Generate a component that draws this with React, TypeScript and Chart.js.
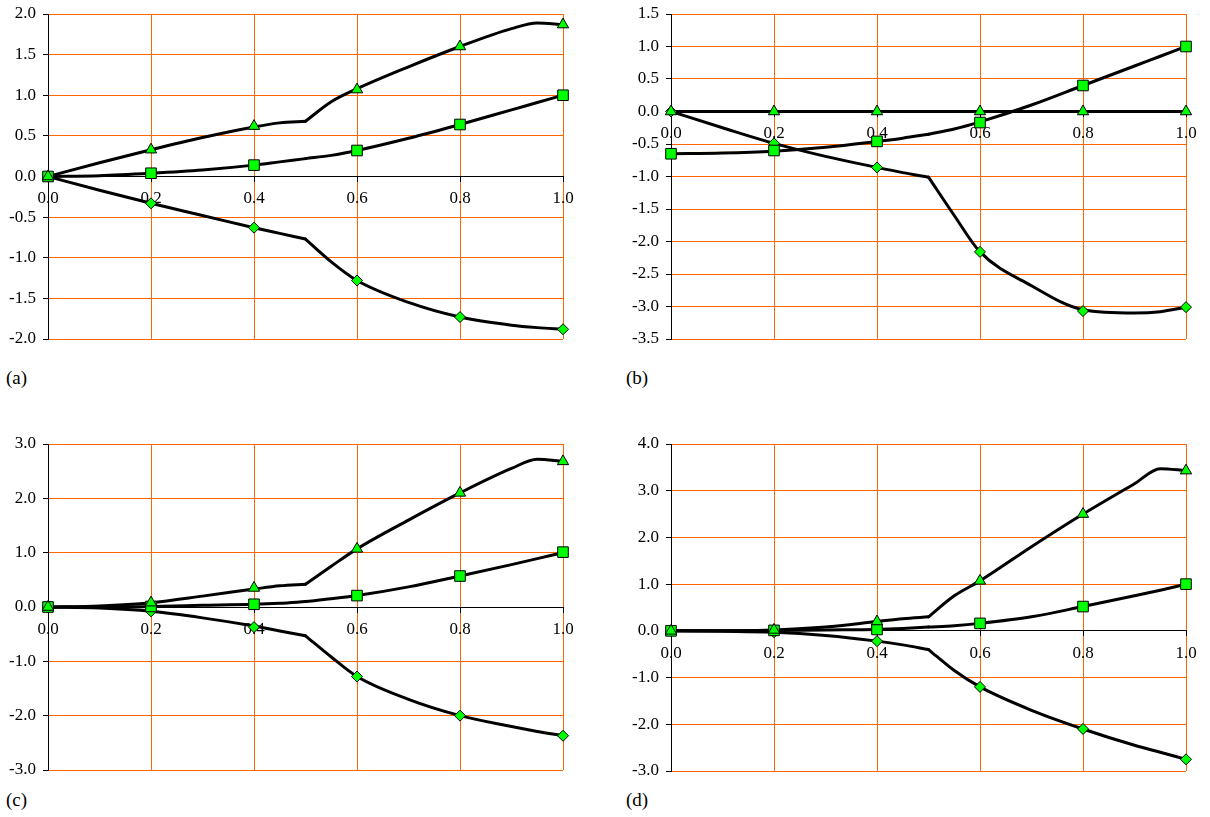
import React, { useEffect, useRef } from "react";
import { Chart, registerables } from "chart.js";

Chart.register(...registerables);

// ---- shared x positions ----
const xMarks = [0, 0.2, 0.4, 0.6, 0.8, 1.0];
const xLeft = [0, 0.1, 0.2, 0.3, 0.4, 0.45, 0.5];
const xRight = [0.5, 0.55, 0.6, 0.7, 0.8, 0.9, 0.95, 1.0];
const xTickLabels = ["0.0", "0.2", "0.4", "0.6", "0.8", "1.0"];

// ---- panel (a) ----
const aTriMarks = [0, 0.33, 0.62, 1.07, 1.6, 1.87];
const aTriLeft = [0, 0.17, 0.33, 0.48, 0.61, 0.66, 0.68];
const aTriRight = [0.68, 0.92, 1.08, 1.35, 1.6, 1.82, 1.89, 1.87];
const aSqMarks = [0, 0.04, 0.14, 0.32, 0.64, 1.0];
const aSqLeft = [0, 0.01, 0.04, 0.08, 0.14, 0.18, 0.22];
const aSqRight = [0.22, 0.26, 0.32, 0.47, 0.64, 0.82, 0.91, 1.0];
const aDiaMarks = [0, -0.33, -0.63, -1.28, -1.73, -1.88];
const aDiaLeft = [0, -0.17, -0.33, -0.48, -0.63, -0.7, -0.77];
const aDiaRight = [-0.77, -1.05, -1.28, -1.55, -1.73, -1.83, -1.86, -1.88];

// ---- panel (b) ----
const bTriMarks = [0, 0, 0, 0, 0, 0];
const bTriLeft = [0, 0, 0, 0, 0, 0, 0];
const bTriRight = [0, 0, 0, 0, 0, 0, 0, 0];
const bSqMarks = [-0.65, -0.6, -0.46, -0.17, 0.4, 1.0];
const bSqLeft = [-0.65, -0.64, -0.61, -0.55, -0.46, -0.41, -0.35];
const bSqRight = [-0.35, -0.27, -0.16, 0.1, 0.4, 0.7, 0.85, 1.0];
const bDiaMarks = [0, -0.49, -0.86, -2.16, -3.07, -3.01];
const bDiaLeft = [0, -0.25, -0.49, -0.69, -0.86, -0.94, -1.01];
const bDiaRight = [-1.01, -1.6, -2.16, -2.68, -3.05, -3.1, -3.08, -3.01];

// ---- panel (c) ----
const cTriMarks = [0, 0.08, 0.35, 1.07, 2.1, 2.68];
const cTriLeft = [0, 0.02, 0.08, 0.2, 0.33, 0.39, 0.42];
const cTriRight = [0.42, 0.75, 1.07, 1.6, 2.1, 2.55, 2.72, 2.68];
const cSqMarks = [0, 0.01, 0.05, 0.21, 0.57, 1.01];
const cSqLeft = [0, 0, 0.01, 0.03, 0.05, 0.07, 0.1];
const cSqRight = [0.1, 0.15, 0.21, 0.37, 0.57, 0.78, 0.89, 1.0];
const cDiaMarks = [0, -0.08, -0.37, -1.28, -2.0, -2.37];
const cDiaLeft = [0, -0.02, -0.08, -0.2, -0.35, -0.44, -0.53];
const cDiaRight = [-0.53, -0.92, -1.28, -1.7, -2.0, -2.2, -2.29, -2.37];

// ---- panel (d) ----
const dTriMarks = [0, 0.02, 0.2, 1.07, 2.5, 3.43];
const dTriLeft = [0, 0, 0.02, 0.08, 0.2, 0.26, 0.3];
const dTriRight = [0.3, 0.75, 1.07, 1.8, 2.5, 3.15, 3.47, 3.43];
const dSqMarks = [0, 0.01, 0.03, 0.16, 0.52, 1.0];
const dSqLeft = [0, 0, 0.01, 0.02, 0.03, 0.05, 0.08];
const dSqRight = [0.08, 0.11, 0.16, 0.3, 0.52, 0.75, 0.87, 1.0];
const dDiaMarks = [0, -0.03, -0.22, -1.2, -2.1, -2.75];
const dDiaLeft = [0, -0.01, -0.03, -0.1, -0.22, -0.3, -0.4];
const dDiaRight = [-0.4, -0.85, -1.2, -1.7, -2.1, -2.45, -2.6, -2.75];

const panelLabels = ["(a)", "(b)", "(c)", "(d)"];

const GREEN = "#00ff00";
const ORANGE = "#ff6600";
const FONT = "'Liberation Serif', 'Times New Roman', serif";

type Series = { marks: number[]; left: number[]; right: number[]; style: string; r: number };

const pts = (xs: number[], ys: number[]) => xs.map((x, i) => ({ x, y: ys[i] }));

function buildDatasets(series: Series[]) {
  const markers = series.map((s) => ({
    data: pts(xMarks, s.marks),
    showLine: false,
    pointStyle: s.style,
    pointRadius: s.r,
    pointHoverRadius: s.r,
    pointBackgroundColor: GREEN,
    pointBorderColor: "#000",
    pointBorderWidth: 1,
    borderColor: "#000",
    backgroundColor: GREEN,
    clip: false,
  }));
  const lines: any[] = [];
  series.forEach((s) => {
    [pts(xLeft, s.left), pts(xRight, s.right)].forEach((d) => {
      lines.push({
        data: d,
        showLine: true,
        borderColor: "#000",
        borderWidth: 3,
        pointRadius: 0,
        pointHoverRadius: 0,
        cubicInterpolationMode: "monotone",
        fill: false,
        borderCapStyle: "round",
        borderJoinStyle: "round",
      });
    });
  });
  return [...markers, ...lines];
}

type PanelCfg = {
  left: number;
  top: number;
  w: number;
  h: number;
  padB: number;
  min: number;
  max: number;
  step: number;
  series: Series[];
};

function Panel({ cfg }: { cfg: PanelCfg }) {
  const ref = useRef<HTMLCanvasElement>(null);
  useEffect(() => {
    const tickFont = { family: FONT, size: 17 };
    const chart = new Chart(ref.current as HTMLCanvasElement, {
      type: "line",
      data: { datasets: buildDatasets(cfg.series) as any },
      options: {
        animation: false,
        responsive: false,
        events: [],
        plugins: { legend: { display: false }, tooltip: { enabled: false } },
        layout: { autoPadding: false, padding: { top: 14, right: 37, bottom: cfg.padB, left: 0 } },
        scales: {
          x: {
            type: "linear",
            min: 0,
            max: 1,
            position: { y: 0 } as any,
            afterBuildTicks: (s: any) => {
              s.ticks = xMarks.map((v) => ({ value: v }));
            },
            afterFit: (s: any) => {
              s.height = 0;
              s.paddingLeft = 0;
              s.paddingRight = 0;
            },
            ticks: {
              callback: (_v: any, i: number) => xTickLabels[i],
              font: tickFont,
              color: "#000",
              padding: 7,
              maxRotation: 0,
              autoSkip: false,
            },
            grid: { color: ORANGE, lineWidth: 1, tickColor: "#000", tickLength: 5 },
            border: { color: "#000", width: 1 },
          },
          y: {
            type: "linear",
            min: cfg.min,
            max: cfg.max,
            position: "left",
            afterFit: (s: any) => {
              s.width = 48;
              s.paddingTop = 0;
              s.paddingBottom = 0;
            },
            ticks: {
              stepSize: cfg.step,
              callback: (v: any) => Number(v).toFixed(1),
              font: tickFont,
              color: "#000",
              padding: 7,
            },
            grid: { color: ORANGE, lineWidth: 1, tickColor: "#000", tickLength: 5 },
            border: { color: "#000", width: 1 },
          },
        },
      },
    });
    return () => chart.destroy();
  }, []);
  return (
    <div style={{ position: "absolute", left: cfg.left, top: cfg.top, width: cfg.w, height: cfg.h }}>
      <canvas ref={ref} width={cfg.w} height={cfg.h} style={{ display: "block" }} />
    </div>
  );
}

const tri = (marks: number[], left: number[], right: number[]): Series => ({ marks, left, right, style: "triangle", r: 6.5 });
const sq = (marks: number[], left: number[], right: number[]): Series => ({ marks, left, right, style: "rect", r: 7.5 });
const dia = (marks: number[], left: number[], right: number[]): Series => ({ marks, left, right, style: "rectRot", r: 5.5 });

const panels: PanelCfg[] = [
  {
    left: 0, top: 0, w: 600, h: 345, padB: 6, min: -2, max: 2, step: 0.5,
    series: [tri(aTriMarks, aTriLeft, aTriRight), sq(aSqMarks, aSqLeft, aSqRight), dia(aDiaMarks, aDiaLeft, aDiaRight)],
  },
  {
    left: 623, top: 0, w: 600, h: 345, padB: 6, min: -3.5, max: 1.5, step: 0.5,
    series: [tri(bTriMarks, bTriLeft, bTriRight), sq(bSqMarks, bSqLeft, bSqRight), dia(bDiaMarks, bDiaLeft, bDiaRight)],
  },
  {
    left: 0, top: 430, w: 600, h: 346, padB: 6, min: -3, max: 3, step: 1,
    series: [tri(cTriMarks, cTriLeft, cTriRight), sq(cSqMarks, cSqLeft, cSqRight), dia(cDiaMarks, cDiaLeft, cDiaRight)],
  },
  {
    left: 623, top: 430, w: 600, h: 347, padB: 6, min: -3, max: 4, step: 1,
    series: [tri(dTriMarks, dTriLeft, dTriRight), sq(dSqMarks, dSqLeft, dSqRight), dia(dDiaMarks, dDiaLeft, dDiaRight)],
  },
];

const labelPos = [
  { left: 6, top: 368 },
  { left: 626, top: 368 },
  { left: 6, top: 790 },
  { left: 626, top: 790 },
];

export default function App() {
  return (
    <div style={{ position: "absolute", left: 0, top: 0, width: 1210, height: 817, background: "#fff", overflow: "hidden" }}>
      {panels.map((p, i) => (
        <Panel key={i} cfg={p} />
      ))}
      {panelLabels.map((t, i) => (
        <div
          key={t}
          style={{
            position: "absolute",
            left: labelPos[i].left,
            top: labelPos[i].top,
            fontFamily: FONT,
            fontSize: 19,
            lineHeight: "19px",
            color: "#000",
            whiteSpace: "nowrap",
          }}
        >
          {t}
        </div>
      ))}
    </div>
  );
}
